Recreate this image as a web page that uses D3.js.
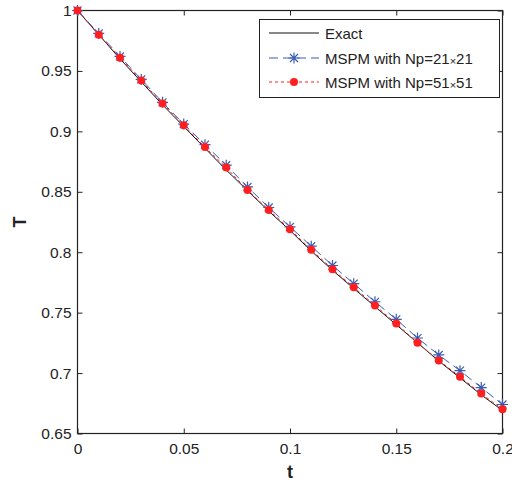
<!DOCTYPE html>
<html>
<head>
<meta charset="utf-8">
<script src="https://cdn.jsdelivr.net/npm/d3@7"></script>
<style>
    body { margin: 0; background: #fff; }
    svg text { font-family: "Liberation Sans", Arial, sans-serif; fill: #222; }
</style>
</head>
<body>
<div id="chart"></div>
<script>
    'use strict';

    // time samples and the three curves
    var tValues = [0, 0.01, 0.02, 0.03, 0.04, 0.05, 0.06, 0.07, 0.08, 0.09, 0.1,
        0.11, 0.12, 0.13, 0.14, 0.15, 0.16, 0.17, 0.18, 0.19, 0.2];
    var exactT = [1, 0.980, 0.960, 0.941, 0.922, 0.904, 0.886, 0.868, 0.851, 0.834, 0.818,
        0.801, 0.785, 0.770, 0.755, 0.740, 0.725, 0.710, 0.696, 0.682, 0.669];
    var np21T = [1, 0.981, 0.962, 0.943, 0.924, 0.906, 0.889, 0.872, 0.854, 0.837, 0.821,
        0.805, 0.789, 0.774, 0.759, 0.7445, 0.729, 0.715, 0.702, 0.688, 0.674];
    var np51T = [1, 0.980, 0.961, 0.942, 0.923, 0.905, 0.887, 0.870, 0.8515, 0.835, 0.819,
        0.802, 0.786, 0.771, 0.756, 0.741, 0.725, 0.7105, 0.697, 0.683, 0.670];

    var xTicks = [0, 0.05, 0.1, 0.15, 0.2];
    var yTicks = [0.65, 0.7, 0.75, 0.8, 0.85, 0.9, 0.95, 1];
    var legendLabels = ["Exact", "MSPM with Np=21", "MSPM with Np=51"];
    var legendSuffix = ["", "21", "51"];

    (function () {
        var W = 512, H = 485;
        var mLeft = 77.5, mTop = 10.5, mRight = 502.5, mBottom = 433.5;

        var svg = d3.select("#chart").append("svg")
            .attr("width", W)
            .attr("height", H);

        var x = d3.scaleLinear().domain([0, 0.2]).range([mLeft, mRight]);
        var y = d3.scaleLinear().domain([0.65, 1]).range([mBottom, mTop]);

        var fmt = function (d) { return String(+d.toFixed(2)); };

        // axes, ticks pointing inward (matlab style box)
        function axisStyle(g) {
            g.select(".domain").remove();
            g.selectAll(".tick line").attr("stroke", "#222");
            g.selectAll(".tick text")
                .style("font-size", "15.5px")
                .attr("fill", "#222");
        }

        svg.append("g")
            .attr("transform", "translate(0," + mBottom + ")")
            .call(d3.axisBottom(x).tickValues(xTicks).tickFormat(fmt).tickSizeInner(-5).tickPadding(9))
            .call(axisStyle);

        svg.append("g")
            .attr("transform", "translate(0," + mTop + ")")
            .call(d3.axisTop(x).tickValues(xTicks).tickFormat("").tickSizeInner(-5))
            .call(axisStyle);

        svg.append("g")
            .attr("transform", "translate(" + mLeft + ",0)")
            .call(d3.axisLeft(y).tickValues(yTicks).tickFormat(fmt).tickSizeInner(-5).tickPadding(6))
            .call(axisStyle);

        svg.append("g")
            .attr("transform", "translate(" + mRight + ",0)")
            .call(d3.axisRight(y).tickValues(yTicks).tickFormat("").tickSizeInner(-5))
            .call(axisStyle);

        svg.append("rect")
            .attr("x", mLeft).attr("y", mTop)
            .attr("width", mRight - mLeft).attr("height", mBottom - mTop)
            .attr("fill", "none")
            .attr("stroke", "#222")
            .attr("stroke-width", 1.2);

        // axis titles
        svg.append("text")
            .attr("x", (mLeft + mRight) / 2)
            .attr("y", 478)
            .attr("text-anchor", "middle")
            .style("font-size", "18px")
            .style("font-weight", "bold")
            .text("t");

        svg.append("text")
            .attr("transform", "translate(26," + ((mTop + mBottom) / 2) + ") rotate(-90)")
            .attr("text-anchor", "middle")
            .style("font-size", "18px")
            .style("font-weight", "bold")
            .text("T");

        var line = d3.line()
            .x(function (d) { return x(d[0]); })
            .y(function (d) { return y(d[1]); });

        function pairs(vals) {
            return tValues.map(function (t, i) { return [t, vals[i]]; });
        }

        var blue = "#3a5cb4", red = "#ff1f1f";

        function star(g, cx, cy, r) {
            var a = r * 0.72;
            g.append("path")
                .attr("d", "M" + (cx - r) + "," + cy + "H" + (cx + r) +
                    "M" + cx + "," + (cy - r) + "V" + (cy + r) +
                    "M" + (cx - a) + "," + (cy - a) + "L" + (cx + a) + "," + (cy + a) +
                    "M" + (cx - a) + "," + (cy + a) + "L" + (cx + a) + "," + (cy - a))
                .attr("stroke", blue)
                .attr("stroke-width", 1.2)
                .attr("fill", "none");
        }

        // exact
        svg.append("path")
            .datum(pairs(exactT))
            .attr("d", line)
            .attr("fill", "none")
            .attr("stroke", "#111")
            .attr("stroke-width", 1);

        // Np = 21x21
        svg.append("path")
            .datum(pairs(np21T))
            .attr("d", line)
            .attr("fill", "none")
            .attr("stroke", blue)
            .attr("stroke-width", 1)
            .attr("stroke-dasharray", "9,5");

        var stars = svg.append("g");
        pairs(np21T).forEach(function (d) { star(stars, x(d[0]), y(d[1]), 5.5); });

        // Np = 51x51
        svg.append("path")
            .datum(pairs(np51T))
            .attr("d", line)
            .attr("fill", "none")
            .attr("stroke", red)
            .attr("stroke-width", 1)
            .attr("stroke-dasharray", "3,3");

        svg.selectAll(".dot")
            .data(pairs(np51T))
            .enter().append("circle")
            .attr("class", "dot")
            .attr("cx", function (d) { return x(d[0]); })
            .attr("cy", function (d) { return y(d[1]); })
            .attr("r", 4)
            .attr("fill", red);

        // legend
        var lg = svg.append("g");
        lg.append("rect")
            .attr("x", 259.5).attr("y", 19.5)
            .attr("width", 240).attr("height", 78)
            .attr("fill", "#fff")
            .attr("stroke", "#222")
            .attr("stroke-width", 1);

        var rowsY = [33, 58, 82];
        var styles = [
            { color: "#111", dash: null },
            { color: blue, dash: "9,5" },
            { color: red, dash: "3,3" }
        ];

        legendLabels.forEach(function (lab, i) {
            var yy = rowsY[i];
            lg.append("line")
                .attr("x1", 269).attr("x2", 319)
                .attr("y1", yy).attr("y2", yy)
                .attr("stroke", styles[i].color)
                .attr("stroke-width", 1)
                .attr("stroke-dasharray", styles[i].dash);
            if (i === 1) star(lg, 294, yy, 5.5);
            if (i === 2) lg.append("circle").attr("cx", 294).attr("cy", yy).attr("r", 4).attr("fill", red);

            var txt = lg.append("text")
                .attr("x", 325)
                .attr("y", yy + 5.5)
                .style("font-size", "15px")
                .text(lab);
            if (legendSuffix[i]) {
                txt.append("tspan").style("font-size", "11px").attr("dy", 1).text("\u00d7");
                txt.append("tspan").attr("dy", -1).text(legendSuffix[i]);
            }
        });
    })();
</script>
</body>
</html>
